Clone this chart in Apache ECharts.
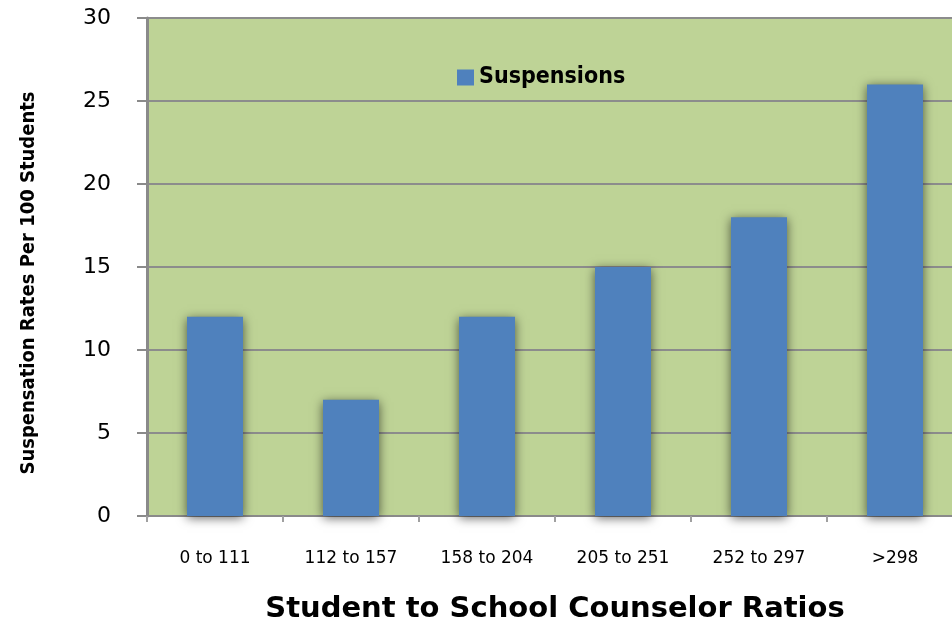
<!DOCTYPE html>
<html>
<head>
<meta charset="utf-8">
<script src="https://cdn.jsdelivr.net/npm/echarts@6/dist/echarts.min.js"></script>
<style>
  html, body { margin: 0; padding: 0; background: #fff; }
  #chart { width: 952px; height: 626px; }
</style>
</head>
<body>
<div id="chart"></div>
<script>
// categories and values
const ratioBands = ["0 to 111", "112 to 157", "158 to 204", "205 to 251", "252 to 297", ">298"];
const suspensions = [12, 7, 12, 15, 18, 26];
const yTicks = [0, 5, 10, 15, 20, 25, 30];

let myChart = echarts.init(document.getElementById("chart"));
myChart.setOption({
  animation: false,
  grid: {
    left: 147,
    top: 18,
    bottom: 110,
    width: 816,
    outerBoundsMode: "none",
    containLabel: false,
    show: true,
    backgroundColor: "#bed396",
    borderWidth: 0
  },
  // y axis title, placed by hand because it sits off centre in the original
  graphic: [
    {
      type: "text",
      x: 29,
      y: 283,
      rotation: Math.PI / 2,
      style: {
        text: "Suspensation Rates Per 100 Students",
        fontFamily: "DejaVu Sans Condensed, DejaVu Sans, sans-serif",
        fontWeight: "bold",
        fontSize: 20,
        fill: "#000",
        align: "center",
        verticalAlign: "middle"
      }
    }
  ],
  legend: {
    data: ["Suspensions"],
    left: 457,
    top: 66,
    padding: 0,
    itemWidth: 17,
    itemHeight: 16,
    icon: "rect",
    textStyle: {
      fontFamily: "DejaVu Sans Condensed, DejaVu Sans, sans-serif",
      fontWeight: "bold",
      fontSize: 23,
      color: "#000"
    }
  },
  xAxis: {
    type: "category",
    data: ratioBands,
    name: "Student to School Counselor Ratios",
    nameLocation: "middle",
    nameGap: 79,
    nameTextStyle: {
      fontFamily: "DejaVu Sans, sans-serif",
      fontWeight: "bold",
      fontSize: 29,
      color: "#000"
    },
    axisLine: { lineStyle: { color: "#8a8a8a", width: 2 } },
    axisTick: { show: true, length: 6, lineStyle: { color: "#a0a0a0", width: 2 } },
    axisLabel: {
      margin: 34,
      fontFamily: "DejaVu Sans, sans-serif",
      fontSize: 17,
      color: "#000"
    }
  },
  yAxis: {
    type: "value",
    min: yTicks[0],
    max: yTicks[yTicks.length - 1],
    interval: 5,
    axisLine: { show: true, lineStyle: { color: "#8a8a8a", width: 3 } },
    axisTick: { show: true, length: 10, lineStyle: { color: "#8a8a8a", width: 2 } },
    splitLine: { lineStyle: { color: "#8c8c8c", width: 2 } },
    axisLabel: {
      margin: 36,
      fontFamily: "DejaVu Sans, sans-serif",
      fontSize: 22,
      color: "#000"
    }
  },
  series: [
    {
      name: "Suspensions",
      type: "bar",
      data: suspensions,
      barWidth: 56,
      itemStyle: {
        color: "#4f81bd",
        shadowColor: "rgba(0,0,0,0.6)",
        shadowBlur: 10,
        shadowOffsetX: 0,
        shadowOffsetY: 2
      }
    }
  ]
});
</script>
</body>
</html>
